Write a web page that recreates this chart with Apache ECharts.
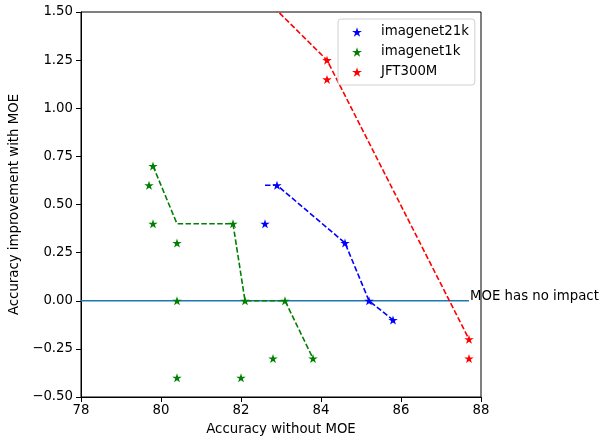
<!DOCTYPE html>
<html>
<head>
<meta charset="utf-8">
<script src="https://cdn.jsdelivr.net/npm/echarts@6/dist/echarts.min.js"></script>
<style>
  html, body { margin: 0; padding: 0; background: #fff; }
  #chart { width: 601px; height: 436px; }
</style>
</head>
<body>
<div id="chart"></div>
<script>
// Measured runs: [accuracy without MOE, improvement with MOE]
const imagenet21kPoints = [[82.6, 0.4], [82.9, 0.6], [84.6, 0.3], [85.2, 0.0], [85.8, -0.1]];
const imagenet1kPoints = [
  [79.8, 0.7], [79.7, 0.6], [79.8, 0.4], [80.4, 0.3], [80.4, 0.0], [80.4, -0.4],
  [81.8, 0.4], [82.1, 0.0], [82.0, -0.4], [83.1, 0.0], [82.8, -0.3], [83.8, -0.3]
];
const jft300mPoints = [[84.15, 1.25], [84.15, 1.15], [87.7, -0.2], [87.7, -0.3]];

// Frontier lines (dashed)
const imagenet21kFrontier = [[82.6, 0.6], [82.9, 0.6], [84.6, 0.3], [85.2, 0.0], [85.8, -0.1]];
const imagenet1kFrontier = [[79.8, 0.7], [80.4, 0.4], [81.8, 0.4], [82.1, 0.0], [83.1, 0.0], [83.8, -0.3]];
const jft300mFrontier = [[81.0, 1.9], [84.15, 1.25], [87.7, -0.2]];

// Reference line for zero improvement
const noImpactLine = [[78, 0], [87.7, 0]];
const noImpactText = 'MOE has no impact';

const xTicks = [78, 80, 82, 84, 86, 88];
const yTicks = [-0.5, -0.25, 0, 0.25, 0.5, 0.75, 1.0, 1.25, 1.5];

const STAR = 'path://M0 -1 L0.2245 -0.309 L0.9511 -0.309 L0.3633 0.118 L0.5878 0.809 L0 0.382 L-0.5878 0.809 L-0.3633 0.118 L-0.9511 -0.309 L-0.2245 -0.309 Z';
const FONT = 'DejaVu Sans';
const FS = 13.3;
const STAR_SIZE = [9.5, 9];

function fmtY(v) {
  const s = Math.abs(v).toFixed(2);
  return v < 0 ? '\u2212' + s : s;
}

function starSeries(name, data, color) {
  return {
    name: name, type: 'scatter', data: data,
    symbol: STAR, symbolSize: STAR_SIZE,
    itemStyle: { color: color, opacity: 1 },
    z: 4
  };
}

function dashSeries(name, data, color) {
  return {
    name: name, type: 'line', data: data,
    symbol: 'none', clip: true,
    lineStyle: { color: color, width: 1.6, type: [5.5, 2.4] },
    z: 3, silent: true
  };
}

const chart = echarts.init(document.getElementById('chart'), null, { renderer: 'canvas' });

chart.setOption({
  animation: false,
  textStyle: { fontFamily: FONT },
  grid: {
    left: 81, right: 120, top: 12, bottom: 39,
    outerBoundsMode: 'none', containLabel: false,
    show: true, borderColor: '#000', borderWidth: 1, backgroundColor: 'transparent'
  },
  legend: {
    data: ['imagenet21k', 'imagenet1k', 'JFT300M'],
    orient: 'vertical',
    left: 338, top: 19,
    padding: [6, 6, 6, 14],
    itemWidth: 10, itemHeight: 10, itemGap: 6,
    backgroundColor: '#fff',
    borderColor: '#d0d0d0', borderWidth: 1, borderRadius: 3,
    icon: STAR,
    itemStyle: { opacity: 1 },
    textStyle: { fontFamily: FONT, fontSize: FS, lineHeight: 14, color: '#000', padding: [0, 0, 0, 14] }
  },
  xAxis: {
    type: 'value', min: 78, max: 88, interval: 2,
    name: 'Accuracy without MOE', nameLocation: 'middle', nameGap: 26,
    nameTextStyle: { fontFamily: FONT, fontSize: FS, color: '#000' },
    axisLine: { show: true, onZero: false, lineStyle: { color: '#000', width: 1 } },
    axisTick: { show: true, inside: false, length: 5, lineStyle: { color: '#000' } },
    axisLabel: { color: '#000', fontFamily: FONT, fontSize: FS, margin: 7,
      formatter: v => xTicks.includes(v) ? String(v) : '' },
    splitLine: { show: false }
  },
  yAxis: {
    type: 'value', min: -0.5, max: 1.5, interval: 0.25,
    name: 'Accuracy improvement with MOE', nameLocation: 'middle', nameGap: 56, nameRotate: 90,
    nameTextStyle: { fontFamily: FONT, fontSize: FS, color: '#000' },
    axisLine: { show: true, onZero: false, lineStyle: { color: '#000', width: 1 } },
    axisTick: { show: true, inside: false, length: 5, lineStyle: { color: '#000' } },
    axisLabel: { color: '#000', fontFamily: FONT, fontSize: FS, margin: 8,
      formatter: v => yTicks.some(t => Math.abs(t - v) < 1e-9) ? fmtY(v) : '' },
    splitLine: { show: false }
  },
  series: [
    {
      name: 'no impact', type: 'line', data: noImpactLine,
      symbol: 'none', silent: true, z: 2,
      lineStyle: { color: '#1f77b4', width: 1.5 },
      endLabel: {
        show: true, formatter: noImpactText, distance: 1, offset: [0, -4],
        color: '#000', fontFamily: FONT, fontSize: FS
      }
    },
    dashSeries('imagenet21k frontier', imagenet21kFrontier, '#0000ff'),
    dashSeries('imagenet1k frontier', imagenet1kFrontier, '#008000'),
    dashSeries('JFT300M frontier', jft300mFrontier, '#ff0000'),
    starSeries('imagenet21k', imagenet21kPoints, '#0000ff'),
    starSeries('imagenet1k', imagenet1kPoints, '#008000'),
    starSeries('JFT300M', jft300mPoints, '#ff0000')
  ]
});
</script>
</body>
</html>
